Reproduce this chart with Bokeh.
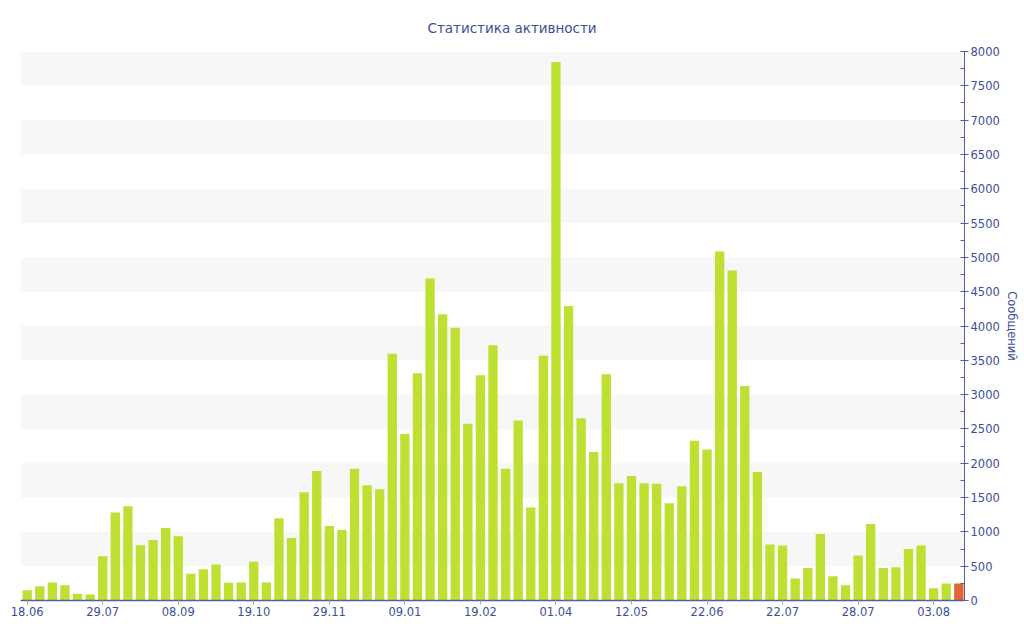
from bokeh.plotting import figure
from bokeh.models import FixedTicker, SingleIntervalTicker, Range1d, ColumnDataSource, BoxAnnotation
from bokeh.embed import file_html
from bokeh.resources import INLINE

# ---- data ----
values = [150, 208, 262, 223, 97, 87, 645, 1281, 1373, 805,
          882, 1057, 936, 388, 456, 524, 257, 262, 563, 262,
          1198, 912, 1577, 1887, 1086, 1028, 1921, 1678, 1620, 3595,
          2425, 3313, 4691, 4172, 3974, 2576, 3284, 3721, 1921, 2624,
          1354, 3566, 7846, 4290, 2654, 2163, 3298, 1707, 1816, 1707,
          1703, 1416, 1664, 2329, 2202, 5084, 4808, 3124, 1872, 815,
          800, 320, 475, 970, 354, 223, 655, 1115, 475, 485,
          751, 800, 179, 247, 247]
tick_labels = ["18.06", "29.07", "08.09", "19.10", "29.11", "09.01", "19.02",
               "01.04", "12.05", "22.06", "22.07", "28.07", "03.08"]
tick_every = 6
title_text = "Статистика активности"
y_label = "Сообщений"

GREEN = "#bde032"
ORANGE = "#e06530"
TEXT = "#3d4e9a"
AXIS = "#4f60a8"
FONT = "DejaVu Sans"

n = len(values)
xs = list(range(n))
colors = [GREEN] * (n - 1) + [ORANGE]
src = ColumnDataSource(dict(x=xs, top=values, color=colors))

p = figure(frame_width=944, frame_height=549,
           x_range=Range1d(-0.53, n - 1 + 0.45), y_range=Range1d(0, 8000),
           y_axis_location="right", toolbar_location=None,
           output_backend="svg", min_border_left=20, min_border_right=56,
           min_border_top=51, min_border_bottom=32)
p.outline_line_color = None
p.background_fill_color = "white"
p.border_fill_color = "white"

# alternating bands
for lo in range(500, 8000, 1000):
    p.add_layout(BoxAnnotation(bottom=lo, top=lo + 500, fill_color="#f7f7f7",
                               fill_alpha=1, line_color=None, level="underlay"))

p.vbar(x="x", top="top", width=0.74, source=src, fill_color="color",
       line_color=None)

p.xgrid.visible = False
p.ygrid.visible = False

# title
p.title.text = title_text
p.title.align = "left"
p.title.offset = 407
p.title.standoff = 32
p.title.text_font = FONT
p.title.text_font_size = "13.5px"
p.title.text_font_style = "normal"
p.title.text_color = TEXT

# x axis
xa = p.xaxis[0]
xa.ticker = FixedTicker(ticks=[i * tick_every for i in range(len(tick_labels))])
xa.major_label_overrides = {i * tick_every: lab for i, lab in enumerate(tick_labels)}
xa.major_label_text_font = FONT
xa.major_label_text_font_size = "11.5px"
xa.major_label_text_color = TEXT
xa.axis_line_color = AXIS
xa.axis_line_width = 1.5
xa.major_tick_line_color = "#aaaaaa"
xa.major_tick_in = 0
xa.major_tick_out = 4
xa.minor_tick_line_color = None
xa.major_label_standoff = 2

# y axis (right)
ya = p.yaxis[0]
ya.ticker = SingleIntervalTicker(interval=500, num_minor_ticks=2)
ya.major_label_text_font = FONT
ya.major_label_text_font_size = "11.5px"
ya.major_label_text_color = TEXT
ya.axis_line_color = AXIS
ya.major_tick_line_color = AXIS
ya.minor_tick_line_color = AXIS
ya.major_tick_in = 2
ya.major_tick_out = 4
ya.minor_tick_in = 4
ya.minor_tick_out = 0
ya.major_label_standoff = 2
ya.axis_label = y_label
ya.axis_label_text_font = FONT
ya.axis_label_text_font_size = "11.5px"
ya.axis_label_text_font_style = "normal"
ya.axis_label_text_color = TEXT
ya.axis_label_standoff = 2

open("out.html", "w").write(file_html(p, INLINE))
